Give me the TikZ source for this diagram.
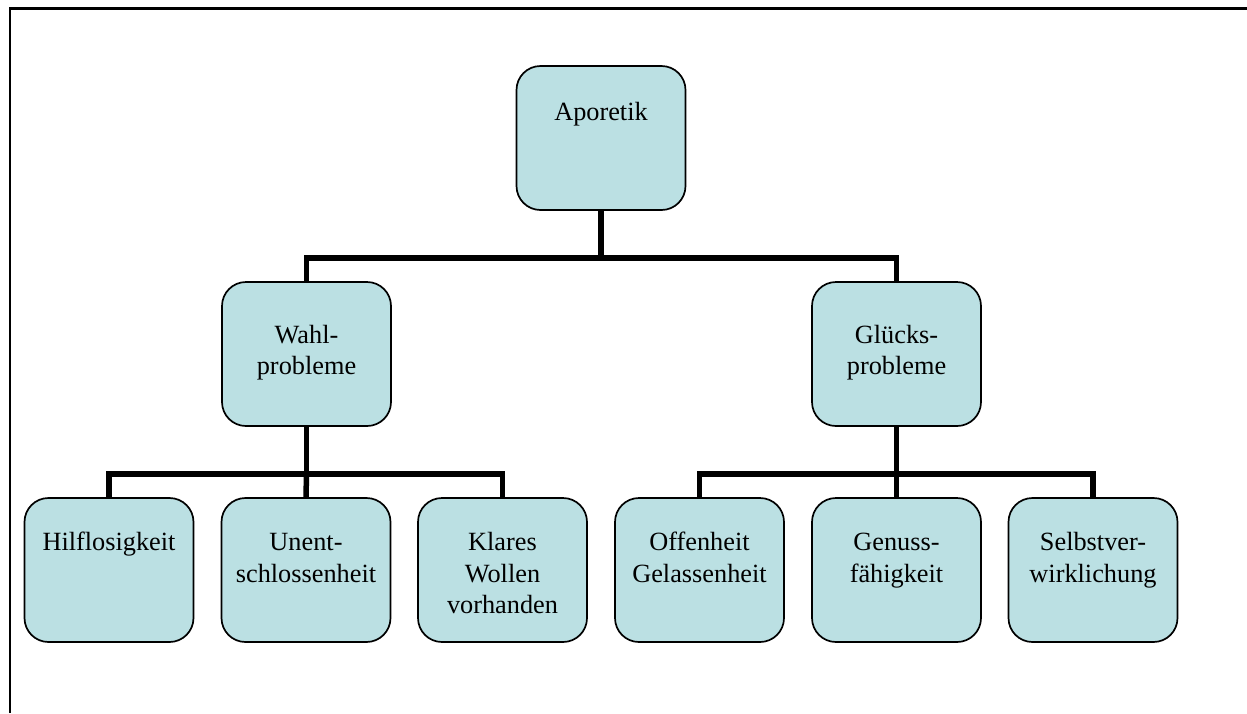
\documentclass[tikz,border=0pt]{standalone}
\usepackage{fontspec}
\setmainfont{Liberation Serif}
\usetikzlibrary{calc}
\definecolor{boxfill}{RGB}{187,224,227}
% stacked, centred lines whose baseline is the first line's baseline
\newcommand\stacklines[1]{\begin{tabular}[t]{@{}c@{}}#1\end{tabular}}
\begin{document}
\begin{tikzpicture}[x=1pt,y=-1pt,
  box/.style={draw=black, line width=1.7pt, fill=boxfill, rounded corners=24pt,
    minimum width=169pt, minimum height=144pt, inner sep=0pt},
  conn/.style={line width=5.5pt, line join=miter},
  lbl/.style={anchor=base, inner sep=0pt, font=\fontsize{26.3}{31.5}\selectfont},
  frameline/.style={line width=2.2pt}]
\useasboundingbox (0,0) rectangle (1247,713);

% open frame along the top and left edges
\coordinate (fbl) at (10,713);
\coordinate (ftl) at (10,8.5);
\coordinate (ftr) at (1247,8.5);
\draw[frameline] (fbl) -- (ftl) -- (ftr);

% boxes
\node[box] (apo)  at (601,138) {};
\node[box] (wahl) at (306.5,354) {};
\node[box] (glk)  at (896.5,354) {};
\node[box] (hilf) at (109,570) {};
\node[box] (unent) at (306,570) {};
\node[box] (klar) at (502.5,570) {};
\node[box] (offen) at (699.5,570) {};
\node[box] (genuss) at (896.5,570) {};
\node[box] (selbst) at (1093,570) {};

% labels
\node[lbl] (tapo)   at ($(apo.north)+(0,55)$) {\stacklines{Aporetik}};
\node[lbl] (twahl)  at ($(wahl.north)+(0,62)$) {\stacklines{Wahl-\\probleme}};
\node[lbl] (tglk)   at ($(glk.north)+(0,62)$) {\stacklines{Glücks-\\probleme}};
\node[lbl] (thilf)  at ($(hilf.north)+(0,53.5)$) {\stacklines{Hilflosigkeit}};
\node[lbl] (tunent) at ($(unent.north)+(0,53.5)$) {\stacklines{Unent-\\schlossenheit}};
\node[lbl] (tklar)  at ($(klar.north)+(0,53.5)$) {\stacklines{Klares\\Wollen\\vorhanden}};
\node[lbl] (toffen) at ($(offen.north)+(0,53.5)$) {\stacklines{Offenheit\\Gelassenheit}};
\node[lbl] (tgen)   at ($(genuss.north)+(0,53.5)$) {\stacklines{Genuss-\\fähigkeit}};
\node[lbl] (tselb)  at ($(selbst.north)+(0,53.5)$) {\stacklines{Selbstver-\\wirklichung}};

% junction rows of the tree connectors
\coordinate (j0) at (0,258);
\coordinate (j1) at (0,474);

\draw[conn] (apo.south) -- (apo.south |- j0) -| (wahl.north);
\draw[conn] (apo.south |- j0) -| (glk.north);

\draw[conn] (wahl.south) -- (wahl.south |- j1) -| (hilf.north);
\draw[conn] (wahl.south |- j1) -- (unent.north);
\draw[conn] (wahl.south |- j1) -| (klar.north);

\draw[conn] (glk.south) -- (glk.south |- j1) -| (offen.north);
\draw[conn] (glk.south |- j1) -- (genuss.north);
\draw[conn] (glk.south |- j1) -| (selbst.north);
\end{tikzpicture}
\end{document}
